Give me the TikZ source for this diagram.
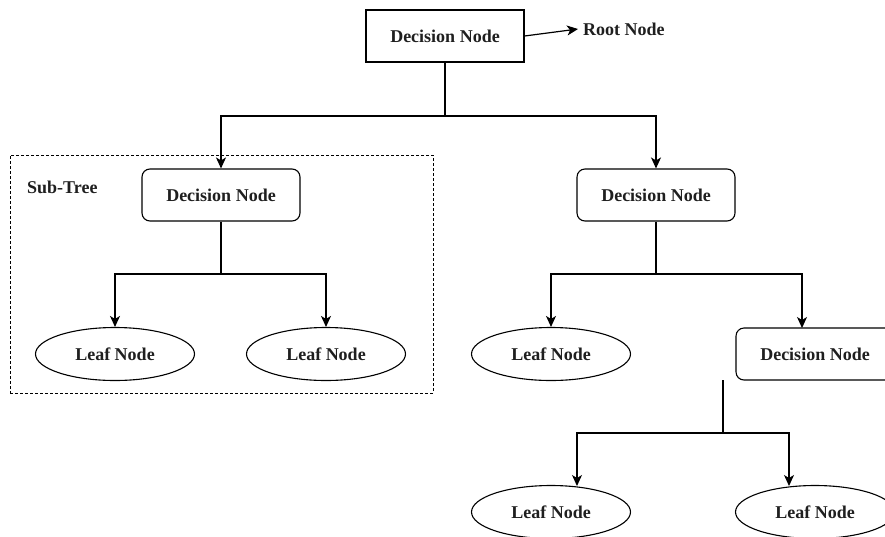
\documentclass[tikz,border=0pt]{standalone}
\usepackage{fontspec}
\setmainfont{Liberation Serif}
\usetikzlibrary{shapes.geometric,arrows.meta,calc}
\begin{document}
\begin{tikzpicture}[x=1pt,y=-1pt,
  lbl/.style={font=\fontsize{18}{20}\selectfont\bfseries,text=black!88},
  box/.style={draw,lbl,minimum width=158pt,minimum height=52pt,inner sep=0pt,line width=1.1pt},
  rbox/.style={box,rounded corners=8pt},
  leaf/.style={draw,ellipse,lbl,minimum width=159pt,minimum height=53pt,inner sep=0pt,line width=1.1pt},
  edge/.style={draw,line width=1.2pt,-{Stealth[length=11pt,width=10pt,inset=3pt]}},
  link/.style={draw,line width=1.2pt},
  region/.style={draw,dash pattern=on 3pt off 2pt,line width=1pt,inner sep=0pt}]
\useasboundingbox (0,0) rectangle (885,536);
\clip (0,0) rectangle (885,536);

% root and its caption
\node[box] (root) at (445,36) {Decision Node};
\node[lbl,anchor=west,inner sep=0pt] (rootlbl) at (583,29) {Root Node};
\draw[edge] (root.east) -- ($(rootlbl.west)+(-5,0)$);

% dashed sub-tree frame
\node[region,minimum width=423pt,minimum height=238pt] (subtree) at (221.5,274) {};
\node[lbl,anchor=west,inner sep=0pt] (sublbl) at (27,187) {Sub-Tree};

% second level
\node[rbox] (d1) at (221,195) {Decision Node};
\node[rbox] (d2) at (656,195) {Decision Node};

% third level
\node[leaf] (l1) at (115,354) {Leaf Node};
\node[leaf] (l2) at (326,354) {Leaf Node};
\node[leaf] (l3) at (551,354) {Leaf Node};
\node[rbox] (d3) at (815,354) {Decision Node};

% fourth level
\node[leaf] (l4) at (551,512) {Leaf Node};
\node[leaf] (l5) at (815,512) {Leaf Node};

% junction points
\coordinate (j0) at (445,116);
\coordinate (j1) at (221,274);
\coordinate (j2) at (656,274);
\coordinate (s3) at (723,380);
\coordinate (j3) at (723,433);
\coordinate (t3) at (802,328);
\coordinate (t4) at (577,486);
\coordinate (t5) at (789,486);

% connectors
\draw[link] (root.south) -- (j0);
\draw[edge] (j0) -| (d1.north);
\draw[edge] (j0) -| (d2.north);

\draw[link] (d1.south) -- (j1);
\draw[edge] (j1) -| (l1.north);
\draw[edge] (j1) -| (l2.north);

\draw[link] (d2.south) -- (j2);
\draw[edge] (j2) -| (l3.north);
\draw[edge] (j2) -| (t3);

\draw[link] (s3) -- (j3);
\draw[edge] (j3) -| (t4);
\draw[edge] (j3) -| (t5);
\end{tikzpicture}
\end{document}
